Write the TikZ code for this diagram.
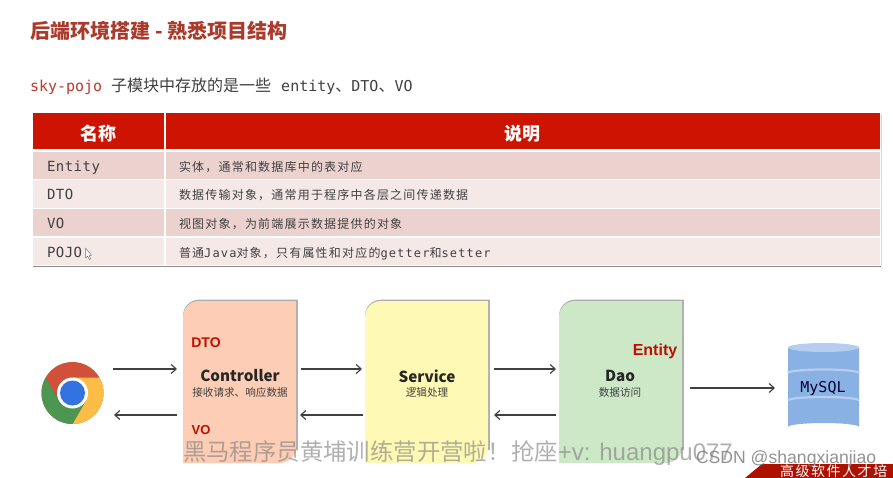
\documentclass[tikz,border=0pt]{standalone}
\usepackage{fontspec}
\usetikzlibrary{arrows.meta}
\setmainfont{Noto Sans CJK SC}
\newfontfamily\mymono{DejaVu Sans Mono}
\newfontfamily\tmono[LetterSpace=3.4]{DejaVu Sans Mono}
\newfontfamily\jmono[LetterSpace=9.5]{DejaVu Sans Mono}
\newfontfamily\tcjk[LetterSpace=10]{Noto Sans CJK SC}
\newfontfamily\bcjk[LetterSpace=11]{Noto Sans CJK SC}
\newfontfamily\hand{Liberation Sans}
\newcommand{\fsz}[1]{\fontsize{#1}{#1}\selectfont}
\definecolor{titlered}{HTML}{A93A2C}
\definecolor{monored}{HTML}{B8392B}
\definecolor{headred}{HTML}{CC1400}
\definecolor{rowa}{HTML}{ECD2CF}
\definecolor{rowb}{HTML}{F5E9E7}
\definecolor{ink}{HTML}{404040}
\definecolor{ctrlc}{HTML}{FDCDB5}
\definecolor{servc}{HTML}{FEF9B5}
\definecolor{daoc}{HTML}{CCE8C6}
\definecolor{dbc}{HTML}{8AB1E3}
\definecolor{dbt}{HTML}{B5CEF0}
\definecolor{labred}{HTML}{BE0F00}
\tikzset{
  every node/.style={inner sep=0pt,outer sep=0pt},
  arr/.style={draw=ink,line width=1.15pt,-{Straight Barb[length=5pt,width=9pt]}},
  hdr/.style={text=white,font=\fsz{18}\bfseries},
  namecell/.style={anchor=base west,text=ink,font=\fsz{14}\tmono},
  desccell/.style={anchor=base west,text=ink,font=\fsz{12}\tcjk},
  lname/.style={text=black!85,font=\fsz{15.2}\bfseries},
  lsub/.style={text=black!75,font=\fsz{10.6}},
  tag/.style={text=labred,font=\hand\bfseries},
  layerbox/.style={minimum height=162pt,anchor=north west},
  wm/.style={text=gray,opacity=.62}
}
\newcommand{\layer}[3]{% x1 x2 colour
  \fill[black!32] [rounded corners=16pt] (#1,450) -- (#1,299.7) [sharp corners] -- (#2+1.8,299.7) -- (#2+1.8,450) -- cycle;
  \fill[#3] [rounded corners=16pt] (#1,463) -- (#1,301) [sharp corners] -- (#2,301) [rounded corners=16pt] -- (#2,463) [sharp corners] -- (#1,463) -- cycle;
}
\begin{document}
\begin{tikzpicture}[x=1pt,y=-1pt]
\path[use as bounding box] (0,0) rectangle (893,478);
\clip (0,0) rectangle (893,478);
\fill[white] (0,0) rectangle (893,478);

% heading
\node[anchor=base west,text=titlered,font=\fsz{20}\bfseries] (title) at (30,39) {后端环境搭建\hspace{5pt}-\hspace{5pt}熟悉项目结构};
\node[anchor=base west,text=ink,font=\fsz{16}] (sub) at (30,92)
  {\fsz{15}{\mymono\color{monored}sky-pojo}\hspace{9pt}\fsz{16}子模块中存放的是一些\hspace{10pt}\fsz{15}{\mymono entity}\fsz{16}、\fsz{15}{\mymono DTO}\fsz{16}、\fsz{15}{\mymono VO}};

% table
\fill[black!15] (33,114) rectangle (881.8,266);
\fill[black!45] (33,265) rectangle (881,267);
\fill[white] (32.5,113.5) rectangle (880.5,265.5);
\fill[headred] (32.5,113.5) rectangle (164,149.5);
\fill[headred] (165.5,113.5) rectangle (880,149.5);
\fill[rowa] (32.5,152) rectangle (164,179);
\fill[rowa] (165.5,152) rectangle (880,179);
\fill[rowb] (32.5,180) rectangle (164,208);
\fill[rowb] (165.5,180) rectangle (880,208);
\fill[rowa] (32.5,209) rectangle (164,236);
\fill[rowa] (165.5,209) rectangle (880,236);
\fill[rowb] (32.5,237.5) rectangle (164,265);
\fill[rowb] (165.5,237.5) rectangle (880,265);
\node[hdr] (h1) at (98,133.5) {名称};
\node[hdr] (h2) at (522,133.5) {说明};
\node[namecell] (n1) at (47,172) {Entity};
\node[namecell] (n2) at (47,200) {DTO};
\node[namecell] (n3) at (47,229) {VO};
\node[namecell] (n4) at (47,258) {POJO};
\node[desccell] (d1) at (179,171.5) {实体，通常和数据库中的表对应};
\node[desccell] (d2) at (179,200) {数据传输对象，通常用于程序中各层之间传递数据};
\node[desccell] (d3) at (179,229) {视图对象，为前端展示数据提供的对象};
\node[desccell] (d4) at (179,257) {普通{\fsz{12}\jmono Java}对象，只有属性和对应的{\fsz{12}\jmono getter}和{\fsz{12}\jmono setter}};
\draw[black!55,fill=white,line width=.5pt,line join=round] (85.5,248) -- (85.5,258) -- (87.7,256.2) -- (89.3,259.5) -- (90.6,258.8) -- (89.2,255.7) -- (91.5,255.2) -- cycle;

% layer boxes
\layer{183}{296}{ctrlc}
\layer{365}{488}{servc}
\layer{559}{682}{daoc}
\node[layerbox,minimum width=113pt] (ctrl) at (183,301) {};
\node[layerbox,minimum width=123pt] (serv) at (365,301) {};
\node[layerbox,minimum width=123pt] (dao) at (559,301) {};
\node[lname] (c1) at (240,376) {Controller};
\node[lsub] (c2) at (240,392) {接收请求、响应数据};
\node[lname] (s1) at (427,376) {Service};
\node[lsub] (s2) at (427,392) {逻辑处理};
\node[lname] (a1) at (620,376) {Dao};
\node[lsub] (a2) at (620,392) {数据访问};
\node[tag,font=\fsz{14}\hand\bfseries] (tdto) at (206,343) {DTO};
\node[tag,font=\fsz{13}\hand\bfseries] (tvo) at (201,430) {VO};
\node[tag,font=\fsz{16}\hand\bfseries] (tent) at (655,351) {Entity};

% browser
\node[circle,minimum size=62pt] (chrome) at (72.5,393) {};
\begin{scope}[shift={(72.5,393)},y=1pt]
  \fill[color={rgb,255:red,208;green,80;blue,58}] (0,0) circle[radius=31pt];
  \fill[color={rgb,255:red,251;green,189;blue,70}] (0,15.5) -- (26.85,15.5) arc[start angle=30,end angle=-90,radius=31pt] -- (13.4,-7.75) -- cycle;
  \begin{scope}[rotate=-120]
    \fill[color={rgb,255:red,76;green,150;blue,82}] (0,15.5) -- (26.85,15.5) arc[start angle=30,end angle=-90,radius=31pt] -- (13.4,-7.75) -- cycle;
  \end{scope}
  \fill[white] (0,0) circle[radius=15.5pt];
  \fill[color={rgb,255:red,50;green,115;blue,225}] (0,0) circle[radius=12.5pt];
\end{scope}

% database
\node[minimum width=71pt,minimum height=88pt] (db) at (823.5,387) {};
\fill[dbc] (788,347.5) -- (788,427) arc[start angle=180,end angle=360,x radius=35.5pt,y radius=-4pt] -- (859,347.5) -- cycle;
\fill[dbt] (823.5,347.5) ellipse[x radius=35.5pt,y radius=4.5pt];
\draw[dbt,line width=2.2pt] (788,373) arc[start angle=180,end angle=360,x radius=35.5pt,y radius=-3.5pt];
\draw[dbt,line width=2.2pt] (788,400.5) arc[start angle=180,end angle=360,x radius=35.5pt,y radius=-3.5pt];
\node[text=black!80!blue,font=\fsz{15}\mymono] (mysql) at (823,388.5) {MySQL};

% connectors
\coordinate (up) at (0,369);
\coordinate (down) at (0,415);
\coordinate (mid) at (0,388);
\draw[arr,shorten <=9.5pt,shorten >=6pt] (chrome.east |- up) -- (ctrl.west |- up);
\draw[arr,shorten <=6pt,shorten >=10.5pt] (ctrl.west |- down) -- (chrome.east |- down);
\draw[arr,shorten <=5pt,shorten >=3pt] (ctrl.east |- up) -- (serv.west |- up);
\draw[arr,shorten <=2pt,shorten >=4pt] (serv.west |- down) -- (ctrl.east |- down);
\draw[arr,shorten <=6pt,shorten >=3pt] (serv.east |- up) -- (dao.west |- up);
\draw[arr,shorten <=3pt,shorten >=6pt] (dao.west |- down) -- (serv.east |- down);
\draw[arr,shorten <=8pt,shorten >=13pt] (dao.east |- mid) -- (db.west |- mid);

% overlays
\node[wm,anchor=base west,font=\fsz{23.4}] (wm1) at (183,460) {黑马程序员黄埔训练营开营啦！};
\node[wm,anchor=base west,font=\fsz{23.4}] (wm2) at (511,460) {抢座{\fsz{24}\hand +v: huangpu077}};
\fill[headred!85!black] (745,478) -- (762,464) -- (893,464) -- (893,478) -- cycle;
\node[anchor=base west,text=white,font=\fsz{14}\bcjk] (brand) at (780,476) {高级软件人才培};
\node[anchor=base west,text=gray,opacity=.85,font=\fsz{17.6}\hand] (wm3) at (696,463.5) {CSDN @shangxianjiao};
\end{tikzpicture}
\end{document}
